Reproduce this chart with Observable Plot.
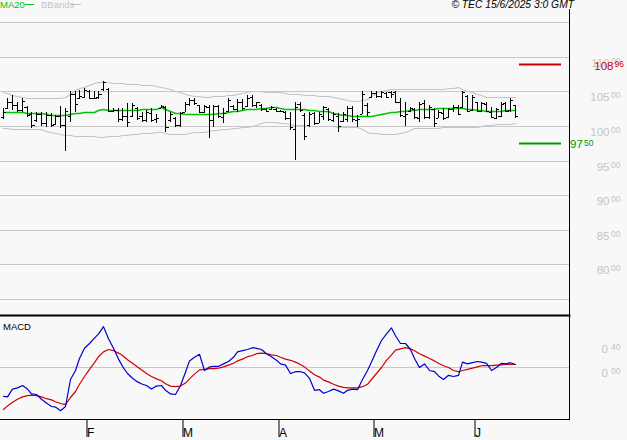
<!DOCTYPE html>
<html><head><meta charset="utf-8">
<script src="https://cdn.jsdelivr.net/npm/d3@7"></script>
<script src="https://cdn.jsdelivr.net/npm/@observablehq/plot@0.6"></script>
<style>
html,body{margin:0;padding:0;background:#f8f8f8;}
#chart{position:relative;width:627px;height:440px;background:#f8f8f8;font-family:"Liberation Sans",Arial,sans-serif;overflow:hidden;}
#chart svg{position:absolute;left:0;overflow:visible;}
</style></head>
<body><div id="chart"></div>
<script>
// ---- data ----
const open = [101.3,102.6,103.5,103.0,102.3,102.8,101.7,100.9,101.7,100.4,
101.6,100.3,101.4,100.2,101.5,104.6,104.0,104.2,105.1,104.0,
104.2,105.3,105.3,102.2,102.3,101.0,101.4,101.5,102.6,101.5,
100.8,101.9,101.0,102.6,102.7,100.8,101.2,100.1,102.0,103.2,
103.8,103.0,102.0,102.8,100.8,102.9,101.3,102.1,102.9,102.4,
103.4,102.9,104.2,103.0,103.0,102.4,102.5,102.5,102.1,102.0,
101.2,99.5,103.2,101.6,100.2,101.9,100.5,101.5,102.4,100.9,
101.5,100.7,101.0,102.6,100.9,101.8,103.0,104.2,104.8,104.3,
104.8,104.9,104.9,103.5,101.5,102.1,102.4,101.2,103.3,101.3,
102.4,101.2,101.9,101.3,102.4,102.8,102.7,104.4,102.3,103.4,
102.1,103.2,102.0,101.2,101.5,103.3,102.3,103.0];
const high = [102.56,104.01,104.48,103.51,104.01,102.94,101.98,101.98,101.98,101.98,
101.84,101.59,102.94,102.56,105.06,105.06,105.20,105.45,105.20,105.06,
105.06,106.51,105.45,102.56,102.56,102.56,103.28,103.33,102.79,102.07,
102.32,102.56,101.69,103.04,102.94,102.07,101.35,102.07,103.51,104.01,
104.01,103.04,103.04,103.04,103.04,103.04,102.56,104.01,103.04,103.90,
103.90,104.48,104.48,103.51,103.18,102.56,102.94,102.56,102.32,102.17,
102.07,103.43,103.43,101.84,102.07,102.07,102.07,102.94,102.56,102.07,
101.84,102.07,102.94,102.94,101.59,105.06,103.28,105.06,105.06,105.06,
104.96,105.06,105.06,104.01,103.51,102.79,102.56,103.51,103.76,103.04,
102.56,102.32,102.56,102.65,103.04,103.04,105.06,104.48,104.48,103.51,
103.51,103.51,102.79,102.56,103.51,103.51,104.01,103.04];
const low = [100.97,102.42,102.32,101.98,101.98,101.35,99.76,100.62,100.05,99.90,
99.90,100.15,99.67,96.39,100.62,102.07,103.90,104.01,103.90,103.90,
103.90,105.06,101.98,101.98,100.62,100.72,99.90,101.30,100.87,100.62,
100.62,100.62,100.39,102.56,99.18,100.62,99.90,99.90,101.98,102.94,
103.04,101.84,101.84,98.23,99.90,101.12,100.39,102.07,102.32,102.07,
102.32,102.79,102.79,102.56,102.17,101.98,102.32,101.98,101.98,100.87,
99.42,95.09,102.07,97.98,99.90,100.15,100.39,100.87,100.72,100.62,
99.09,100.62,100.62,100.62,99.90,101.69,101.49,104.01,104.01,104.01,
104.01,104.01,103.28,101.35,100.05,102.07,101.02,100.62,101.02,101.02,
99.90,101.12,100.87,101.12,101.98,101.59,102.56,101.98,102.17,101.98,
101.98,101.98,101.12,101.02,101.35,101.98,102.07,101.12];
const close = [102.0,103.5,103.0,102.3,103.6,101.6,100.2,101.7,100.4,101.6,
100.1,101.4,100.1,102.2,104.6,103.2,104.3,105.2,104.1,104.1,
104.6,106.3,102.2,102.3,101.0,101.4,100.6,103.0,101.2,100.8,
102.0,100.9,101.2,102.9,99.8,101.8,100.1,101.9,103.2,103.8,
103.3,102.0,102.9,100.8,102.9,101.4,101.9,103.7,102.5,103.5,
102.6,104.1,103.0,103.4,102.4,102.2,102.8,102.1,102.2,101.2,
99.9,102.8,102.3,98.5,101.8,100.5,101.8,102.7,101.0,101.8,
100.0,101.8,102.6,101.0,101.0,104.7,102.0,104.8,104.3,104.9,
104.2,104.6,103.5,101.6,101.7,102.6,101.3,103.2,101.3,102.8,
100.5,102.0,101.1,102.4,102.8,101.8,104.9,102.2,104.2,102.2,
103.3,102.1,101.3,102.4,103.2,102.2,103.8,101.4];
const ma20 = [101.97,101.98,101.98,101.97,101.96,101.95,101.93,101.90,101.85,101.75,
101.65,101.60,101.59,101.62,101.80,101.88,101.92,101.96,102.00,102.07,
102.35,102.40,102.36,102.33,102.32,102.32,102.33,102.34,102.38,102.42,
102.42,102.43,102.50,102.75,102.45,102.17,101.90,101.84,101.80,101.76,
101.73,101.70,101.68,101.67,101.75,101.85,101.93,101.98,102.10,102.20,
102.30,102.40,102.48,102.53,102.58,102.65,102.75,102.79,102.60,102.45,
102.50,102.53,102.52,102.45,102.35,102.28,102.21,102.15,102.10,101.95,
101.75,101.65,101.58,101.52,101.50,101.49,101.49,101.50,101.62,101.74,
101.88,101.98,102.08,102.16,102.22,102.28,102.36,102.40,102.44,102.48,
102.52,102.56,102.58,102.60,102.63,102.65,102.60,102.52,102.45,102.38,
102.30,102.22,102.17,102.20,102.24,102.28,102.31,102.32];
const bbUpper = [104.96,104.75,104.55,104.35,104.15,104.10,104.05,104.02,104.01,104.01,
104.01,104.05,104.10,104.15,104.70,105.20,105.45,105.70,105.95,106.20,
106.40,106.38,106.32,106.28,106.22,106.16,106.10,106.07,106.03,106.00,
105.97,105.93,105.80,105.65,105.50,105.31,105.10,104.90,104.70,104.48,
104.40,104.30,104.24,104.25,104.30,104.35,104.40,104.45,104.48,104.65,
104.80,104.95,105.10,105.05,105.00,104.97,104.96,104.96,104.90,104.80,
104.70,104.62,104.58,104.52,104.48,104.43,104.40,104.38,104.30,104.15,
104.00,103.85,103.72,103.65,103.62,103.75,103.90,104.30,104.73,105.00,
105.20,105.31,105.31,105.31,105.31,105.31,105.31,105.31,105.31,105.31,
105.31,105.35,105.40,105.45,105.50,105.59,105.40,105.10,104.96,104.70,
104.45,104.24,104.20,104.18,104.17,104.16,104.15,104.15];
const bbLower = [99.67,99.65,99.63,99.61,99.59,99.57,99.55,99.54,99.53,99.30,
99.10,98.95,98.82,98.70,98.65,98.60,98.58,98.56,98.52,98.49,
98.46,98.48,98.50,98.53,98.56,98.65,98.73,98.80,98.88,98.95,
99.00,99.06,99.12,99.18,99.05,98.92,98.85,98.80,98.90,99.00,
99.08,99.13,99.18,99.27,99.36,99.45,99.54,99.61,99.67,99.75,
99.83,99.92,100.00,100.20,100.42,100.62,100.58,100.54,100.50,100.48,
100.35,100.22,100.15,100.10,100.05,100.02,100.00,99.98,99.96,99.94,
99.93,99.92,99.91,99.90,99.90,99.55,99.18,99.05,98.95,98.90,
98.85,98.88,98.92,98.95,99.20,99.45,99.67,99.70,99.72,99.74,
99.76,99.78,99.80,99.81,99.81,99.81,99.81,99.81,99.81,99.93,
100.05,100.15,100.20,100.25,100.30,100.33,100.36,100.39];
const macd = [-0.48,-0.49,-0.36,-0.34,-0.30,-0.36,-0.44,-0.45,-0.53,-0.59,
-0.65,-0.66,-0.72,-0.65,-0.20,-0.05,0.15,0.32,0.40,0.49,
0.56,0.68,0.48,0.32,0.14,0.02,-0.10,-0.18,-0.24,-0.28,
-0.30,-0.36,-0.31,-0.30,-0.38,-0.44,-0.45,-0.30,-0.08,0.11,
0.17,0.22,-0.05,0.01,0.02,0.02,0.06,0.10,0.17,0.26,
0.28,0.30,0.33,0.32,0.30,0.23,0.18,0.12,0.06,0.04,
-0.10,-0.07,-0.07,-0.09,-0.18,-0.38,-0.37,-0.43,-0.40,-0.36,
-0.39,-0.43,-0.38,-0.36,-0.37,-0.20,-0.05,0.09,0.28,0.45,
0.56,0.66,0.53,0.40,0.40,0.30,0.15,0.00,0.06,-0.05,
-0.07,-0.14,-0.20,-0.13,-0.15,-0.13,0.09,0.06,0.08,0.10,
0.09,0.07,-0.05,0.00,0.07,0.06,0.08,0.05];
const signal = [-0.70,-0.64,-0.58,-0.53,-0.49,-0.47,-0.46,-0.47,-0.49,-0.52,
-0.54,-0.57,-0.60,-0.62,-0.50,-0.40,-0.28,-0.15,-0.03,0.08,
0.18,0.26,0.30,0.28,0.24,0.20,0.13,0.07,0.01,-0.05,
-0.10,-0.15,-0.19,-0.22,-0.27,-0.31,-0.32,-0.31,-0.26,-0.19,
-0.11,-0.04,-0.03,-0.02,-0.02,-0.01,0.01,0.04,0.07,0.11,
0.14,0.18,0.20,0.23,0.24,0.23,0.21,0.20,0.17,0.14,
0.12,0.09,0.05,0.01,-0.06,-0.12,-0.16,-0.21,-0.24,-0.28,
-0.31,-0.33,-0.34,-0.34,-0.34,-0.32,-0.28,-0.20,-0.10,0.00,
0.12,0.21,0.29,0.31,0.33,0.31,0.28,0.23,0.19,0.15,
0.11,0.07,0.03,0.00,-0.05,-0.07,-0.05,-0.03,-0.01,0.01,
0.03,0.03,0.03,0.04,0.045,0.05,0.05,0.05];
const monthTickIdx = [17, 37, 57, 77, 98];
const monthLabels = ["F", "M", "A", "M", "J"];
const priceGrid = [75, 80, 85, 90, 95, 100, 105, 110, 115];
const priceLabels = [80, 85, 90, 95, 100, 105, 110];
const macdLabels = [0.4, 0];
const levelValues = [108.96, 97.50];
const levelColors = ["#cc0000", "#009900"];
const titleText = "© TEC 15/6/2025 3:0 GMT";

// ---- build ----
const N = open.length;
const idx = d3.range(N);
const bars = idx.map(i => ({i, o: open[i], h: high[i], l: low[i], c: close[i]}));
const levels = levelValues.map((v, k) => ({v, color: levelColors[k],
  ip: v.toFixed(2).split(".")[0], dp: v.toFixed(2).split(".")[1]}));
const levelSpan = [107.8, 116.7];
const FONT = "Liberation Sans, Arial, sans-serif";
const GRID = "#c8c8c8";
const LBL = "#c4c4c4";
const xScale = {domain: [0, N - 1], range: [2.7, 515], round: true};

const chart = document.getElementById("chart");

const main = Plot.plot({
  width: 627, height: 314,
  marginLeft: 0, marginRight: 58, marginTop: 9, marginBottom: 0,
  style: {background: "transparent", overflow: "visible", fontFamily: FONT},
  x: {...xScale, axis: null},
  y: {domain: [72.84, 118.21], range: [314, 0], round: true, axis: null},
  marks: [
    Plot.ruleY(priceGrid, {y: d => d, stroke: GRID}),
    Plot.line(idx, {x: i => i, y: i => bbUpper[i], stroke: "#c4c4c4", strokeWidth: 1.2}),
    Plot.line(idx, {x: i => i, y: i => bbLower[i], stroke: "#c4c4c4", strokeWidth: 1.2}),
    Plot.line(idx, {x: i => i, y: i => ma20[i], stroke: "#00c400", strokeWidth: 1.5}),
    Plot.ruleX(bars, {x: "i", y1: "l", y2: "h", stroke: "#000"}),
    Plot.ruleY(bars, {y: "o", x1: d => d.i - 0.45, x2: "i", stroke: "#000"}),
    Plot.ruleY(bars, {y: "c", x1: "i", x2: d => d.i + 0.65, stroke: "#000"}),
    Plot.frame({anchor: "right", stroke: "#000"}),
    Plot.text(priceLabels, {y: d => d, text: d => String(d), frameAnchor: "right", dx: 40,
      dy: 5.5, textAnchor: "end", fill: LBL, fontSize: 11.5, fontFamily: FONT}),
    Plot.text(priceLabels, {y: d => d, text: () => "00", frameAnchor: "right", dx: 51,
      dy: 3.5, textAnchor: "end", fill: LBL, fontSize: 8.5, fontFamily: FONT}),
    Plot.ruleY(levels, {y: "v", x1: levelSpan[0], x2: levelSpan[1], stroke: "color", strokeWidth: 2}),
    Plot.text(levels.slice(0, 1), {y: "v", text: "ip", frameAnchor: "right", dx: 44, dy: 1.5,
      textAnchor: "end", fill: "color", fontSize: 11.5, fontFamily: FONT}),
    Plot.text(levels.slice(0, 1), {y: "v", text: "dp", frameAnchor: "right", dx: 45, dy: 0,
      textAnchor: "start", fill: "color", fontSize: 8.5, fontFamily: FONT}),
    Plot.text(levels.slice(1), {y: "v", text: "ip", frameAnchor: "right", dx: 0.5, dy: 0.5,
      textAnchor: "start", fill: "color", fontSize: 11.5, fontFamily: FONT}),
    Plot.text(levels.slice(1), {y: "v", text: "dp", frameAnchor: "right", dx: 14.5, dy: -0.5,
      textAnchor: "start", fill: "color", fontSize: 8.5, fontFamily: FONT})
  ]
});
main.style.top = "0px";
chart.appendChild(main);

const macdPlot = Plot.plot({
  width: 627, height: 126,
  marginLeft: 0, marginRight: 58, marginTop: 1, marginBottom: 21,
  style: {background: "transparent", overflow: "visible", fontFamily: FONT},
  x: {...xScale},
  y: {domain: [-0.8667, 0.8667], range: [105, 1], axis: null},
  marks: [
    Plot.ruleY([0], {stroke: GRID}),
    Plot.line(idx, {x: i => i, y: i => signal[i], stroke: "#d00000", strokeWidth: 1.2}),
    Plot.line(idx, {x: i => i, y: i => macd[i], stroke: "#0000d0", strokeWidth: 1.2}),
    Plot.frame({anchor: "top", stroke: "#000", strokeWidth: 2}),
    Plot.frame({anchor: "right", stroke: "#000"}),
    Plot.frame({anchor: "bottom", stroke: "#000"}),
    Plot.axisX({ticks: monthTickIdx, tickFormat: d => monthLabels[monthTickIdx.indexOf(d)],
      tickSize: 18, tickPadding: -9, textAnchor: "start", dx: 2.5, fontSize: 12,
      fill: "#000", stroke: "#000", fontFamily: FONT}),
    Plot.text(macdLabels, {y: d => d, text: () => "0", frameAnchor: "right", dx: 38.5,
      dy: 5.5, textAnchor: "end", fill: LBL, fontSize: 11.5, fontFamily: FONT}),
    Plot.text(macdLabels, {y: d => d, text: d => d.toFixed(2).split(".")[1], frameAnchor: "right", dx: 51,
      dy: 3.5, textAnchor: "end", fill: LBL, fontSize: 8.5, fontFamily: FONT})
  ]
});
macdPlot.style.top = "314px";
chart.appendChild(macdPlot);

// legend, title, panel label
function addDiv(html, css) {
  const d = document.createElement("div");
  d.textContent = html;
  d.style.cssText = css;
  chart.appendChild(d);
  return d;
}
addDiv("MA20", "position:absolute;left:0;top:-1px;font-size:9.5px;color:#00c400;");
addDiv("", "position:absolute;left:25px;top:4px;width:9px;border-top:1px solid #00c400;");
addDiv("BBands", "position:absolute;left:41px;top:-1px;font-size:9.5px;color:#c4c4c4;");
addDiv("", "position:absolute;left:71px;top:4px;width:10px;border-top:1px solid #c4c4c4;");
addDiv(titleText, "position:absolute;right:53px;top:-1px;font-size:10.3px;font-style:italic;color:#000;white-space:nowrap;");
addDiv("MACD", "position:absolute;left:3px;top:321px;font-size:9.5px;color:#000;");
</script>
</body></html>
